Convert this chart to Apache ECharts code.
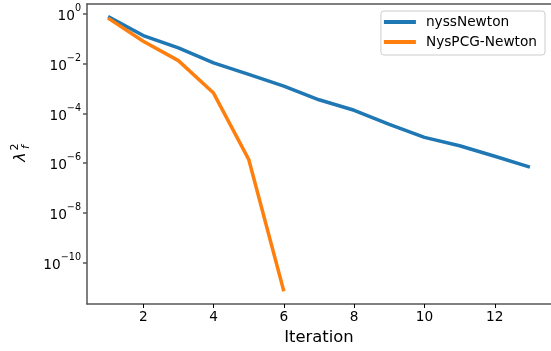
<!DOCTYPE html>
<html>
<head>
<meta charset="utf-8">
<title>nyssNewton vs NysPCG-Newton</title>
<script src="https://cdn.jsdelivr.net/npm/echarts@6/dist/echarts.min.js"></script>
<style>
html, body { margin: 0; padding: 0; background: #fff; }
#chart { width: 551px; height: 351px; }
</style>
</head>
<body>
<div id="chart"></div>
<script>
// data
var iterations = [1, 2, 3, 4, 5, 6, 7, 8, 9, 10, 11, 12, 13];
var nyssNewton = [0.78, 0.135, 0.043, 0.0107, 0.0037, 0.00123, 3.5e-4, 1.32e-4, 3.6e-5, 1.07e-5, 4.9e-6, 1.86e-6, 6.8e-7];
var nysPCGNewton = [0.68, 0.079, 0.0132, 6.5e-4, 1.4e-6, 6.8e-12];
var xTicks = [2, 4, 6, 8, 10, 12];
var yTickExp = [-10, -8, -6, -4, -2, 0];

var font = 'DejaVu Sans';
var axisColor = '#555';

function toPairs(vals) {
	return vals.map(function (v, i) { return [iterations[i], Math.log10(v)]; });
}

var chart = echarts.init(document.getElementById('chart'));

var option = {
	animation: false,
	// right spine falls outside the picture, as in the original
	grid: { left: 87, top: 4, right: 0, bottom: 45 },
	legend: {
		orient: 'vertical',
		right: 6,
		top: 11,
		padding: [3, 8, 5, 3],
		borderColor: '#ccc',
		borderWidth: 1,
		borderRadius: 3,
		itemWidth: 32,
		itemHeight: 4,
		itemGap: 4,
		icon: 'rect',
		textStyle: { fontFamily: font, fontSize: 13.7, color: '#000', lineHeight: 16, padding: [0, 0, 0, 5] },
		data: ['nyssNewton', 'NysPCG-Newton']
	},
	xAxis: [{
		type: 'value',
		min: 0.4,
		max: 13.6,
		name: 'Iteration',
		nameLocation: 'middle',
		nameGap: 26,
		nameTextStyle: { fontFamily: font, fontSize: 16.4, color: '#000' },
		axisLine: { onZero: false, lineStyle: { color: axisColor, width: 1.5 } },
		axisTick: { length: 4, lineStyle: { color: '#000', width: 1 }, customValues: xTicks },
		axisLabel: { fontFamily: font, fontSize: 13.7, color: '#000', margin: 6, customValues: xTicks },
		splitLine: { show: false }
	}, {
		// top spine only
		type: 'value',
		position: 'top',
		min: 0.4,
		max: 13.6,
		axisLine: { show: true, onZero: false, lineStyle: { color: axisColor, width: 1.5 } },
		axisTick: { show: false },
		axisLabel: { show: false },
		splitLine: { show: false }
	}],
	yAxis: {
		type: 'value',
		min: -11.68,
		max: 0.4,
		axisLine: { show: true, onZero: false, lineStyle: { color: axisColor, width: 1.5 } },
		axisTick: { show: true, length: 4, lineStyle: { color: axisColor, width: 1.5 }, customValues: yTickExp },
		axisLabel: {
			fontFamily: font,
			color: '#000',
			margin: 6,
			customValues: yTickExp,
			formatter: function (v) {
				var e = Math.round(v);
				var s = e < 0 ? '\u2212' + (-e) : String(e);
				return '{a|10}{b|' + s + '}';
			},
			rich: {
				a: { fontFamily: font, fontSize: 13.7, color: '#000', lineHeight: 20, verticalAlign: 'bottom' },
				b: { fontFamily: font, fontSize: 9.6, color: '#000', lineHeight: 20, verticalAlign: 'top' }
			}
		},
		splitLine: { show: false }
	},
	graphic: [{
		type: 'group',
		x: 21,
		y: 157,
		rotation: Math.PI / 2,
		children: [
			{ type: 'text', x: 0, y: 0, style: { text: '\u03bb', font: 'italic 16px DejaVu Sans', fill: '#000', textAlign: 'center', verticalAlign: 'middle' } },
			{ type: 'text', x: 10, y: -6, style: { text: '2', font: '11px DejaVu Sans', fill: '#000', textAlign: 'center', verticalAlign: 'middle' } },
			{ type: 'text', x: 10, y: 5, style: { text: 'f', font: 'italic 11px DejaVu Sans', fill: '#000', textAlign: 'center', verticalAlign: 'middle' } }
		]
	}],
	series: [
		{
			name: 'nyssNewton',
			type: 'line',
			data: toPairs(nyssNewton),
			showSymbol: false,
			symbol: 'none',
			color: '#1f77b4',
			lineStyle: { width: 3.5, color: '#1f77b4' }
		},
		{
			name: 'NysPCG-Newton',
			type: 'line',
			data: toPairs(nysPCGNewton),
			showSymbol: false,
			symbol: 'none',
			color: '#ff7f0e',
			lineStyle: { width: 3.5, color: '#ff7f0e' }
		}
	]
};

chart.setOption(option);
</script>
</body>
</html>
